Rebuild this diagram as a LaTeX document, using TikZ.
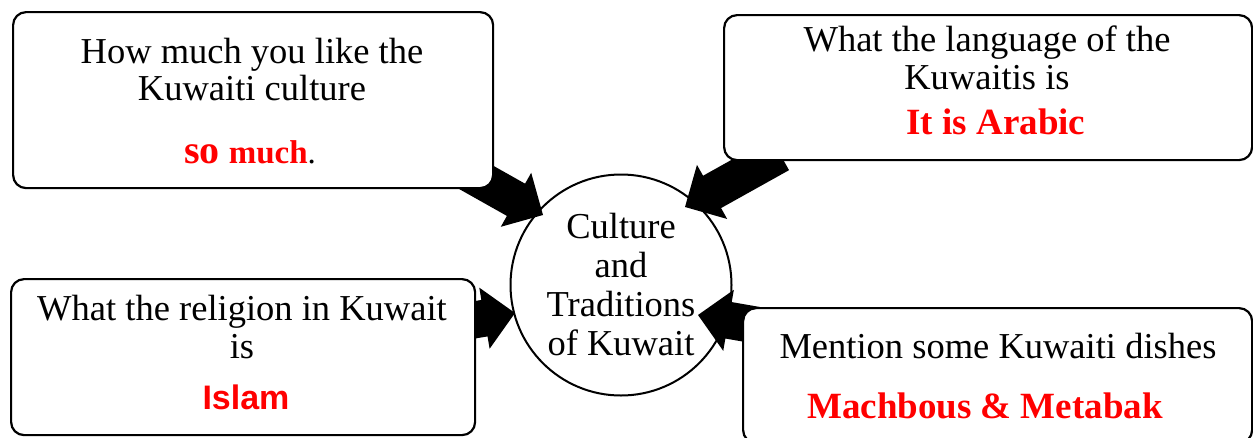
\documentclass[tikz,border=0pt]{standalone}
\usepackage{fontspec}
\setmainfont{Liberation Serif}
\newfontfamily\arialfont{Liberation Sans}
\usetikzlibrary{calc}
\definecolor{ansred}{RGB}{255,0,0}
\newcommand\blockarrow[2]{%
  \coordinate (ah) at ($(#2)!31pt!(#1)$);
  \fill[black] ($(#1)!18.5pt!90:(#2)$) -- ($(ah)!18.5pt!90:(#2)$) -- ($(ah)!31pt!90:(#2)$) -- (#2)
    -- ($(ah)!31pt!-90:(#2)$) -- ($(ah)!18.5pt!-90:(#2)$) -- ($(#1)!18.5pt!-90:(#2)$) -- cycle;}
\begin{document}
\begin{tikzpicture}[x=1pt,y=-1pt,
  box/.style={draw=black, line width=2.2pt, rounded corners=13pt, fill=white, inner sep=0pt, anchor=north west},
  txt/.style={font=\fontsize{36.5}{38}\selectfont, inner sep=0pt, anchor=base},
  ans/.style={text=ansred, font=\fontsize{37}{38}\selectfont\bfseries, inner sep=0pt, anchor=base}]
\useasboundingbox (0,0) rectangle (1253,437);
\fill[white] (0,0) rectangle (1253,437);

% central circle
\node[draw, circle, line width=2pt, minimum size=221pt, inner sep=0pt, align=center,
      font=\fontsize{36.5}{39}\selectfont] (c) at (621,285) {Culture\\and\\Traditions\\of Kuwait};

% arrow end points
\coordinate (t1) at (456,166); \coordinate (p1) at (543,215);
\coordinate (t2) at (780,154); \coordinate (p2) at (685,207);
\coordinate (t3) at (456,323); \coordinate (p3) at (515,313);
\coordinate (t4) at (767,327); \coordinate (p4) at (698,315);
\blockarrow{t1}{p1}
\blockarrow{t2}{p2}
\blockarrow{t3}{p3}
\blockarrow{t4}{p4}

% boxes
\node[box, minimum width=480pt, minimum height=176pt] (b1) at (12,11) {};
\node[box, minimum width=528pt, minimum height=145pt] (b2) at (723,14) {};
\node[box, minimum width=464pt, minimum height=156pt] (b3) at (10,278) {};
\node[box, minimum width=509pt, minimum height=135pt] (b4) at (742,307) {};

% box 1
\node[txt] (l1a) at (252,63) {How much you like the};
\node[txt] (l1b) at (252,100) {Kuwaiti culture};
\node[txt] (l1c) at (250,163) {\textcolor{ansred}{\bfseries{\fontsize{40}{40}\selectfont so} {\fontsize{33}{38}\selectfont much}}{\fontsize{33}{38}\selectfont .}};

% box 2
\node[txt] (l2a) at (987,51) {What the language of the};
\node[txt] (l2b) at (987,89) {Kuwaitis is};
\node[ans] (l2c) at (996,134) {It is Arabic};

% box 3
\node[txt] (l3a) at (242,320) {What the religion in Kuwait};
\node[txt] (l3b) at (242,358) {is};
\node[ans, font=\arialfont\fontsize{34}{38}\selectfont\bfseries] (l3c) at (246,409) {Islam};

% box 4
\node[txt] (l4a) at (998,358) {Mention some Kuwaiti dishes};
\node[ans] (l4b) at (985,418) {Machbous \& Metabak};
\end{tikzpicture}
\end{document}
